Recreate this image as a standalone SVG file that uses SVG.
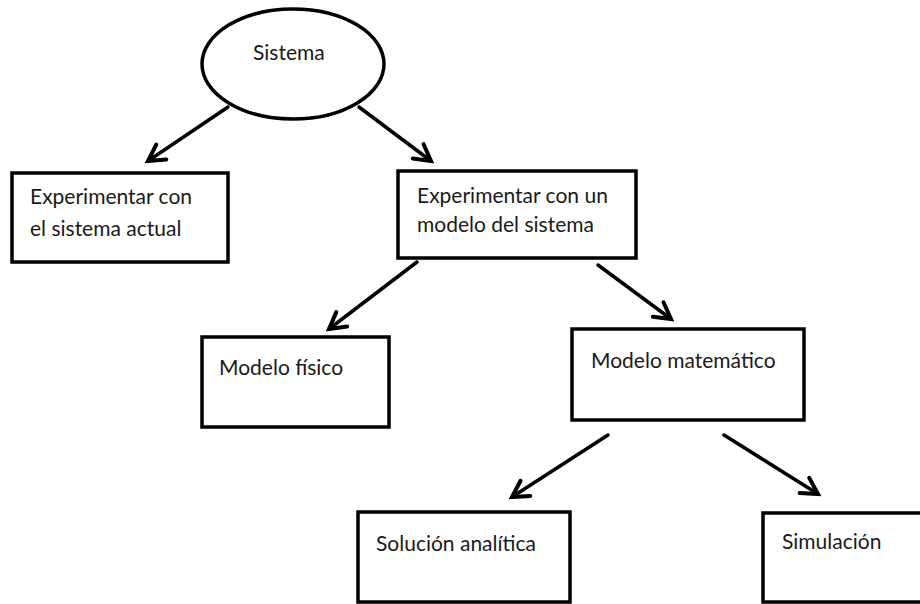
<svg xmlns="http://www.w3.org/2000/svg" width="920" height="604" viewBox="0 0 920 604">
  <style>
    .shape { fill: #ffffff; stroke: #000000; stroke-width: 3.5; }
    .label { font-family: Lato, "Open Sans", "Liberation Sans", sans-serif; font-size: 21px; fill: #1a1a1a; }
    .link { fill: none; stroke: #000000; stroke-width: 3.5; stroke-linecap: round; }
  </style>
  <defs>
    <marker id="arrow" viewBox="-20 -12 24 24" markerWidth="24" markerHeight="24" markerUnits="userSpaceOnUse" refX="0" refY="0" orient="auto">
      <path d="M-16,-9 L0,0 L-16,9" fill="none" stroke="#000000" stroke-width="4" stroke-linecap="round" stroke-linejoin="miter"/>
    </marker>
  </defs>
  <rect width="920" height="604" fill="#ffffff"/>

  <g id="sistema">
    <ellipse class="shape" cx="293" cy="64" rx="91" ry="55"/>
    <text class="label" x="253" y="60">Sistema</text>
  </g>

  <g id="sistema-actual">
    <rect class="shape" x="12" y="173" width="216" height="89"/>
    <text class="label" x="30" y="204">Experimentar con</text>
    <text class="label" x="30" y="236">el sistema actual</text>
  </g>

  <g id="modelo-sistema">
    <rect class="shape" x="398" y="171" width="238" height="87"/>
    <text class="label" x="417" y="203">Experimentar con un</text>
    <text class="label" x="417" y="232">modelo del sistema</text>
  </g>

  <g id="modelo-fisico">
    <rect class="shape" x="202" y="337" width="187" height="90"/>
    <text class="label" x="219" y="375">Modelo físico</text>
  </g>

  <g id="modelo-matematico">
    <rect class="shape" x="572" y="329" width="232" height="91"/>
    <text class="label" x="591" y="368">Modelo matemático</text>
  </g>

  <g id="solucion-analitica">
    <rect class="shape" x="358" y="512" width="212" height="90"/>
    <text class="label" x="376" y="551">Solución analítica</text>
  </g>

  <g id="simulacion">
    <rect class="shape" x="763" y="513" width="180" height="89"/>
    <text class="label" x="782" y="549">Simulación</text>
  </g>

  <g id="connectors">
    <line class="link" x1="228" y1="107" x2="148" y2="161" marker-end="url(#arrow)"/>
    <line class="link" x1="359" y1="107" x2="431" y2="161" marker-end="url(#arrow)"/>
    <line class="link" x1="417" y1="262" x2="329" y2="329" marker-end="url(#arrow)"/>
    <line class="link" x1="598" y1="265" x2="671" y2="319" marker-end="url(#arrow)"/>
    <line class="link" x1="608" y1="435" x2="512" y2="497" marker-end="url(#arrow)"/>
    <line class="link" x1="724" y1="435" x2="818" y2="494" marker-end="url(#arrow)"/>
  </g>
</svg>
